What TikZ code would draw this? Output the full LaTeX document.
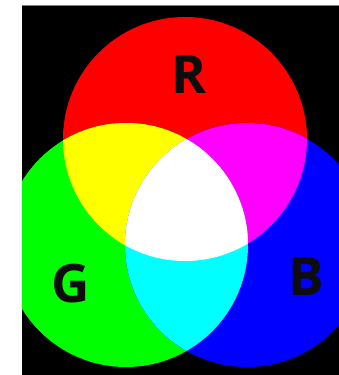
\documentclass[tikz,border=0pt]{standalone}
\usepackage{fontspec}
\setmainfont{Open Sans}
\definecolor{lampR}{RGB}{255,0,0}
\definecolor{lampG}{RGB}{0,255,0}
\definecolor{lampB}{RGB}{0,0,255}
\definecolor{lampY}{RGB}{255,255,0}
\definecolor{lampM}{RGB}{255,0,255}
\definecolor{lampC}{RGB}{0,255,255}
\definecolor{lampW}{RGB}{255,255,255}
\tikzset{
  lamp/.style={fill=#1},
  letter/.style={inner sep=0pt, text=black!95,
    font=\fontsize{53}{53}\selectfont\bfseries}
}
\newcommand{\rad}{122pt}
\begin{document}
\begin{tikzpicture}[x=1pt,y=-1pt]
\useasboundingbox (0,0) rectangle (339,375);

% frame
\fill[white] (0,0) rectangle (339,375);
\fill[black] (22,5) rectangle (339,375);
\draw[gray, line width=0.8pt] (22,5.4) -- (339,5.4);

% light centres
\coordinate (cR) at (185,139);
\coordinate (cG) at (126,245);
\coordinate (cB) at (247,245);

\begin{scope}
  \clip (22,6) rectangle (339,375);
  % single lights
  \fill[lamp=lampR] (cR) circle[radius=\rad];
  \fill[lamp=lampG] (cG) circle[radius=\rad];
  \fill[lamp=lampB] (cB) circle[radius=\rad];
  % red + green
  \begin{scope}
    \clip (cR) circle[radius=\rad];
    \fill[lamp=lampY] (cG) circle[radius=\rad];
  \end{scope}
  % red + blue
  \begin{scope}
    \clip (cR) circle[radius=\rad];
    \fill[lamp=lampM] (cB) circle[radius=\rad];
  \end{scope}
  % green + blue
  \begin{scope}
    \clip (cG) circle[radius=\rad];
    \fill[lamp=lampC] (cB) circle[radius=\rad];
  \end{scope}
  % all three
  \begin{scope}
    \clip (cR) circle[radius=\rad];
    \clip (cG) circle[radius=\rad];
    \fill[lamp=lampW] (cB) circle[radius=\rad];
  \end{scope}
\end{scope}

% labels
\node[letter] (labR) at (189,75)  {R};
\node[letter] (labG) at (71,284)  {G};
\node[letter] (labB) at (306,277) {B};

\end{tikzpicture}
\end{document}
